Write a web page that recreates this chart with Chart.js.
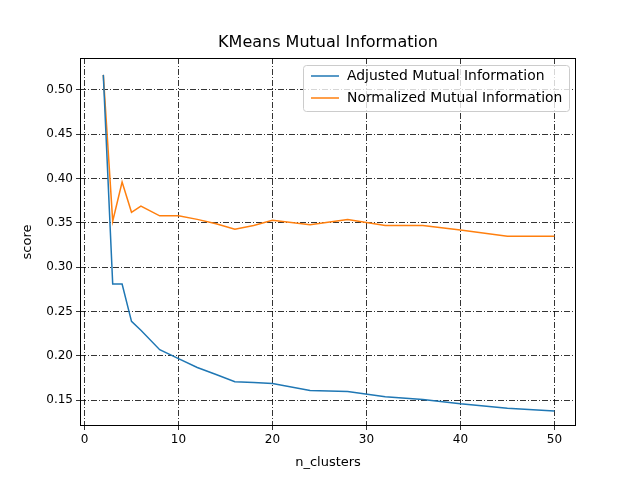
<!DOCTYPE html>
<html><head><meta charset="utf-8">
<script src="https://cdn.jsdelivr.net/npm/chart.js@4/dist/chart.umd.min.js"></script>
<style>body{margin:0;background:#fff}</style></head>
<body><canvas id="c" width="640" height="480"></canvas>
<script>
var nClusters = [2,3,4,5,6,8,10,12,14,16,18,20,24,28,32,36,40,45,50];
var adjusted = [0.517,0.281,0.281,0.239,0.229,0.207,0.197,0.187,0.179,0.171,0.170,0.169,0.161,0.160,0.154,0.151,0.146,0.141,0.138];
var normalized = [0.517,0.352,0.396,0.362,0.369,0.358,0.358,0.354,0.349,0.343,0.347,0.353,0.348,0.354,0.347,0.347,0.342,0.335,0.335];
var seriesNames = ["Adjusted Mutual Information","Normalized Mutual Information"];
var colors = ["#1f77b4","#ff7f0e"];
var FONT = "DejaVu Sans";

function pts(vals) {
  return nClusters.map(function(x, i) { return {x: x, y: vals[i]}; });
}

var extras = {
  id: "extras",
  afterDraw: function(chart) {
    let ctx = chart.ctx, a = chart.chartArea;
    ctx.save();
    ctx.strokeStyle = "#000"; ctx.lineWidth = 1; ctx.setLineDash([]);
    ctx.strokeRect(a.left+0.5, a.top+0.5, a.right-a.left-1, a.bottom-a.top-1);
    ctx.fillStyle = "#000";
    ctx.textAlign = "center"; ctx.textBaseline = "middle";
    ctx.font = "16px '"+FONT+"'";
    ctx.fillText("KMeans Mutual Information", (a.left+a.right)/2, 43);
    ctx.font = "13px '"+FONT+"'";
    ctx.fillText("n_clusters", (a.left+a.right)/2, 463);
    ctx.save(); ctx.translate(28, (a.top+a.bottom)/2); ctx.rotate(-Math.PI/2);
    ctx.fillText("score", 0, 0); ctx.restore();
    // legend
    let lx = 303, ly = 65, w = 266, h = 46;
    ctx.fillStyle = "rgba(255,255,255,0.8)"; ctx.strokeStyle = "#ccc";
    ctx.beginPath(); ctx.roundRect(lx+0.5, ly+0.5, w, h, 3); ctx.fill(); ctx.stroke();
    ctx.textAlign = "left"; ctx.lineWidth = 1.5;
    ctx.font = "13.9px '"+FONT+"'";
    for (let i=0; i<2; i++) {
      let yy = ly + 11 + i*22;
      ctx.strokeStyle = colors[i];
      ctx.beginPath(); ctx.moveTo(lx+8, yy); ctx.lineTo(lx+36, yy); ctx.stroke();
      ctx.fillStyle = "#000";
      ctx.fillText(seriesNames[i], lx+44, yy);
    }
    ctx.restore();
  }
};

var grid = {color: "#000", lineWidth: 0.8, tickLength: 4, tickColor: "#000", drawOnChartArea: true};
var border = {display: false, dash: [6,2,1,2]};
new Chart(document.getElementById("c").getContext("2d"), {
  type: "line",
  data: {
    datasets: [
      {label: seriesNames[0], data: pts(adjusted), borderColor: colors[0], borderWidth: 1.5, pointRadius: 0, tension: 0},
      {label: seriesNames[1], data: pts(normalized), borderColor: colors[1], borderWidth: 1.5, pointRadius: 0, tension: 0}
    ]
  },
  options: {
    responsive: false, animation: false,
    layout: {padding: {top: 58, right: 64, left: 0, bottom: 0}},
    plugins: {legend: {display: false}, tooltip: {enabled: false}},
    scales: {
      x: {type: "linear", min: -0.48, max: 52.3,
        afterBuildTicks: function(s) { s.ticks = [0,10,20,30,40,50].map(function(v){return {value:v};}); },
        afterFit: function(s) { s.height = 54; },
        grid: grid, border: border,
        ticks: {color: "#000", font: {family: FONT, size: 12}, maxRotation: 0, padding: 3}},
      y: {min: 0.121, max: 0.536,
        afterBuildTicks: function(s) { s.ticks = [0.15,0.2,0.25,0.3,0.35,0.4,0.45,0.5].map(function(v){return {value:v};}); },
        afterFit: function(s) { s.width = 80; },
        grid: grid, border: border,
        ticks: {color: "#000", font: {family: FONT, size: 12}, padding: 3,
          callback: function(v) { return v.toFixed(2); }}}
    }
  },
  plugins: [extras]
});
</script></body></html>
